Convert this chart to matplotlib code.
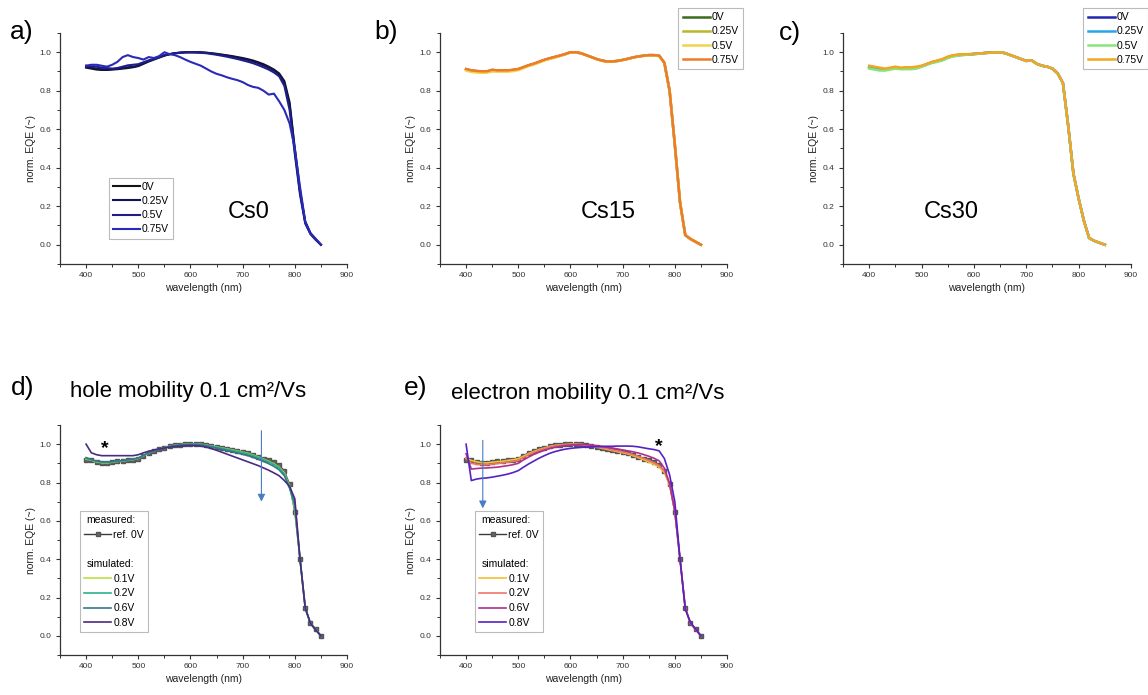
import matplotlib
matplotlib.use("Agg")
import matplotlib.pyplot as plt
from matplotlib.lines import Line2D
from matplotlib.ticker import MultipleLocator

plt.rcParams['font.family'] = ['Liberation Sans', 'DejaVu Sans']

# wavelength grid (nm)
wl = [400, 410, 420, 430, 440, 450, 460, 470, 480, 490,
      500, 510, 520, 530, 540, 550, 560, 570, 580, 590,
      600, 610, 620, 630, 640, 650, 660, 670, 680, 690,
      700, 710, 720, 730, 740, 750, 760, 770, 780, 790,
      800, 810, 820, 830, 840, 850]

bias_a = ['0V', '0.25V', '0.5V', '0.75V']
bias_sim = ['0.1V', '0.2V', '0.6V', '0.8V']

# a) Cs0
a_0V = [0.920, 0.915, 0.910, 0.908, 0.908, 0.910, 0.912, 0.915, 0.918, 0.922,
        0.928, 0.940, 0.952, 0.962, 0.972, 0.982, 0.990, 0.995, 0.998, 1.000,
        1.000, 1.000, 1.000, 0.998, 0.995, 0.992, 0.988, 0.984, 0.980, 0.975,
        0.970, 0.964, 0.957, 0.948, 0.938, 0.925, 0.910, 0.890, 0.850, 0.740,
        0.500, 0.280, 0.120, 0.060, 0.030, 0.000]
a_025V = [0.925, 0.920, 0.915, 0.912, 0.910, 0.912, 0.915, 0.918, 0.922, 0.925,
          0.930, 0.942, 0.955, 0.965, 0.975, 0.984, 0.990, 0.995, 0.998, 1.000,
          1.000, 1.000, 0.999, 0.997, 0.994, 0.990, 0.986, 0.982, 0.977, 0.972,
          0.966, 0.960, 0.952, 0.943, 0.932, 0.920, 0.905, 0.885, 0.840, 0.725,
          0.490, 0.270, 0.115, 0.058, 0.028, 0.000]
a_05V = [0.930, 0.928, 0.925, 0.920, 0.918, 0.915, 0.918, 0.925, 0.932, 0.935,
         0.938, 0.948, 0.958, 0.965, 0.975, 0.985, 0.990, 0.994, 0.997, 0.999,
         1.000, 0.999, 0.997, 0.995, 0.991, 0.987, 0.982, 0.977, 0.971, 0.965,
         0.958, 0.951, 0.943, 0.933, 0.922, 0.910, 0.895, 0.875, 0.825, 0.700,
         0.470, 0.260, 0.110, 0.055, 0.025, 0.000]
a_075V = [0.930, 0.935, 0.935, 0.930, 0.925, 0.935, 0.950, 0.975, 0.985, 0.975,
          0.970, 0.962, 0.975, 0.970, 0.980, 1.000, 0.990, 0.985, 0.975, 0.962,
          0.950, 0.940, 0.930, 0.915, 0.900, 0.888, 0.880, 0.870, 0.862, 0.855,
          0.845, 0.830, 0.820, 0.815, 0.800, 0.780, 0.785, 0.745, 0.700, 0.630,
          0.500, 0.300, 0.120, 0.060, 0.030, 0.000]

# b) Cs15
b_0V = [0.912, 0.905, 0.902, 0.900, 0.900, 0.908, 0.905, 0.905, 0.905, 0.908,
        0.912, 0.922, 0.932, 0.940, 0.950, 0.960, 0.968, 0.975, 0.982, 0.990,
        1.000, 1.000, 0.995, 0.985, 0.975, 0.965, 0.957, 0.952, 0.952, 0.955,
        0.960, 0.966, 0.973, 0.978, 0.982, 0.985, 0.985, 0.982, 0.945, 0.800,
        0.520, 0.220, 0.050, 0.030, 0.015, 0.000]
b_025V = [0.910, 0.904, 0.900, 0.898, 0.899, 0.906, 0.904, 0.904, 0.904, 0.907,
          0.911, 0.921, 0.931, 0.939, 0.949, 0.959, 0.967, 0.974, 0.981, 0.990,
          1.000, 1.000, 0.995, 0.985, 0.975, 0.965, 0.957, 0.952, 0.952, 0.955,
          0.960, 0.966, 0.973, 0.978, 0.982, 0.985, 0.985, 0.982, 0.945, 0.800,
          0.520, 0.220, 0.050, 0.030, 0.015, 0.000]
b_05V = [0.905, 0.898, 0.895, 0.893, 0.894, 0.900, 0.899, 0.899, 0.899, 0.902,
         0.907, 0.917, 0.928, 0.936, 0.946, 0.957, 0.965, 0.972, 0.980, 0.989,
         0.999, 0.999, 0.994, 0.984, 0.974, 0.964, 0.956, 0.951, 0.951, 0.954,
         0.959, 0.965, 0.972, 0.977, 0.981, 0.984, 0.984, 0.981, 0.944, 0.800,
         0.520, 0.220, 0.050, 0.030, 0.015, 0.000]
b_075V = [0.913, 0.906, 0.903, 0.901, 0.901, 0.909, 0.906, 0.906, 0.906, 0.909,
          0.913, 0.923, 0.933, 0.941, 0.951, 0.961, 0.969, 0.976, 0.983, 0.991,
          1.000, 1.000, 0.995, 0.985, 0.975, 0.965, 0.957, 0.952, 0.952, 0.955,
          0.960, 0.966, 0.973, 0.978, 0.982, 0.985, 0.985, 0.982, 0.945, 0.800,
          0.520, 0.220, 0.050, 0.030, 0.015, 0.000]

# c) Cs30
c_0V = [0.925, 0.920, 0.915, 0.910, 0.915, 0.920, 0.916, 0.918, 0.918, 0.921,
        0.928, 0.938, 0.948, 0.955, 0.962, 0.974, 0.982, 0.986, 0.988, 0.989,
        0.991, 0.993, 0.996, 0.998, 1.000, 1.000, 0.995, 0.985, 0.975, 0.965,
        0.955, 0.958, 0.940, 0.930, 0.925, 0.915, 0.890, 0.840, 0.620, 0.370,
        0.240, 0.125, 0.035, 0.020, 0.010, 0.000]
c_025V = [0.922, 0.917, 0.912, 0.908, 0.913, 0.918, 0.914, 0.915, 0.915, 0.918,
          0.926, 0.936, 0.946, 0.953, 0.960, 0.972, 0.980, 0.984, 0.987, 0.989,
          0.991, 0.993, 0.996, 0.998, 1.000, 1.000, 0.995, 0.985, 0.975, 0.965,
          0.955, 0.958, 0.940, 0.930, 0.925, 0.915, 0.890, 0.840, 0.620, 0.370,
          0.240, 0.125, 0.035, 0.020, 0.010, 0.000]
c_05V = [0.915, 0.910, 0.905, 0.905, 0.910, 0.915, 0.912, 0.912, 0.912, 0.915,
         0.925, 0.935, 0.945, 0.950, 0.958, 0.970, 0.978, 0.982, 0.985, 0.988,
         0.990, 0.992, 0.995, 0.997, 0.999, 1.000, 0.995, 0.985, 0.975, 0.965,
         0.955, 0.957, 0.940, 0.930, 0.925, 0.915, 0.890, 0.840, 0.620, 0.370,
         0.240, 0.125, 0.035, 0.020, 0.010, 0.000]
c_075V = [0.930, 0.925, 0.920, 0.915, 0.920, 0.925, 0.920, 0.922, 0.922, 0.925,
          0.930, 0.940, 0.950, 0.957, 0.965, 0.977, 0.985, 0.988, 0.990, 0.990,
          0.992, 0.994, 0.996, 0.998, 1.000, 1.000, 0.995, 0.985, 0.975, 0.965,
          0.955, 0.958, 0.940, 0.930, 0.925, 0.915, 0.890, 0.840, 0.620, 0.370,
          0.240, 0.125, 0.035, 0.020, 0.010, 0.000]

# measured reference at 0V (d and e)
ref_0V = [0.920, 0.915, 0.905, 0.900, 0.900, 0.905, 0.910, 0.910, 0.915, 0.920,
          0.925, 0.940, 0.955, 0.965, 0.975, 0.980, 0.990, 0.995, 0.998, 1.000,
          1.000, 1.000, 1.000, 0.995, 0.990, 0.985, 0.980, 0.975, 0.970, 0.965,
          0.960, 0.955, 0.945, 0.935, 0.925, 0.915, 0.905, 0.890, 0.860, 0.790,
          0.645, 0.400, 0.145, 0.065, 0.035, 0.000]

# d) simulated, hole mobility 0.1 cm2/Vs
d_01V = [0.922, 0.917, 0.908, 0.903, 0.902, 0.906, 0.910, 0.912, 0.916, 0.920,
         0.926, 0.940, 0.954, 0.965, 0.974, 0.981, 0.989, 0.994, 0.997, 0.999,
         1.000, 1.000, 0.999, 0.995, 0.990, 0.985, 0.980, 0.975, 0.970, 0.964,
         0.958, 0.952, 0.943, 0.933, 0.922, 0.910, 0.897, 0.880, 0.850, 0.780,
         0.660, 0.400, 0.145, 0.065, 0.033, 0.000]
d_02V = [0.925, 0.918, 0.910, 0.905, 0.904, 0.907, 0.911, 0.913, 0.917, 0.921,
         0.927, 0.941, 0.955, 0.965, 0.974, 0.981, 0.989, 0.994, 0.997, 0.999,
         1.000, 1.000, 0.999, 0.994, 0.989, 0.984, 0.979, 0.973, 0.968, 0.962,
         0.956, 0.950, 0.941, 0.931, 0.920, 0.908, 0.894, 0.877, 0.845, 0.775,
         0.670, 0.400, 0.145, 0.065, 0.033, 0.000]
d_06V = [0.930, 0.920, 0.912, 0.908, 0.907, 0.909, 0.912, 0.914, 0.918, 0.922,
         0.928, 0.941, 0.955, 0.964, 0.973, 0.980, 0.988, 0.993, 0.996, 0.998,
         0.999, 0.999, 0.997, 0.992, 0.986, 0.980, 0.974, 0.967, 0.961, 0.954,
         0.947, 0.940, 0.931, 0.921, 0.910, 0.898, 0.884, 0.866, 0.835, 0.770,
         0.690, 0.400, 0.145, 0.065, 0.033, 0.000]
d_08V = [1.000, 0.955, 0.945, 0.940, 0.940, 0.940, 0.940, 0.940, 0.940, 0.940,
         0.945, 0.955, 0.963, 0.970, 0.975, 0.980, 0.985, 0.988, 0.990, 0.992,
         0.993, 0.992, 0.990, 0.985, 0.977, 0.968, 0.958, 0.948, 0.938, 0.928,
         0.918, 0.908, 0.898, 0.888, 0.876, 0.864, 0.850, 0.835, 0.810, 0.780,
         0.715, 0.400, 0.145, 0.065, 0.030, 0.000]

# e) simulated, electron mobility 0.1 cm2/Vs
e_01V = [0.925, 0.915, 0.908, 0.903, 0.902, 0.906, 0.909, 0.911, 0.915, 0.919,
         0.924, 0.937, 0.951, 0.962, 0.972, 0.980, 0.988, 0.993, 0.996, 0.998,
         1.000, 1.000, 0.999, 0.995, 0.990, 0.985, 0.979, 0.973, 0.967, 0.961,
         0.955, 0.949, 0.940, 0.930, 0.919, 0.907, 0.895, 0.880, 0.852, 0.785,
         0.650, 0.400, 0.145, 0.065, 0.033, 0.000]
e_02V = [0.930, 0.900, 0.895, 0.893, 0.893, 0.896, 0.899, 0.902, 0.906, 0.910,
         0.915, 0.930, 0.945, 0.957, 0.968, 0.977, 0.985, 0.991, 0.995, 0.998,
         0.999, 1.000, 0.999, 0.996, 0.992, 0.987, 0.982, 0.976, 0.970, 0.965,
         0.959, 0.953, 0.945, 0.936, 0.926, 0.915, 0.903, 0.888, 0.860, 0.790,
         0.650, 0.400, 0.145, 0.065, 0.033, 0.000]
e_06V = [0.950, 0.870, 0.873, 0.875, 0.876, 0.878, 0.880, 0.884, 0.888, 0.893,
         0.900, 0.918, 0.933, 0.947, 0.958, 0.968, 0.977, 0.984, 0.989, 0.993,
         0.995, 0.997, 0.998, 0.997, 0.995, 0.992, 0.988, 0.984, 0.980, 0.975,
         0.970, 0.965, 0.960, 0.954, 0.946, 0.937, 0.927, 0.913, 0.875, 0.795,
         0.650, 0.400, 0.145, 0.065, 0.033, 0.000]
e_08V = [1.000, 0.810, 0.818, 0.822, 0.824, 0.828, 0.833, 0.838, 0.844, 0.852,
         0.862, 0.880, 0.897, 0.912, 0.927, 0.940, 0.952, 0.961, 0.968, 0.974,
         0.978, 0.981, 0.983, 0.985, 0.986, 0.987, 0.988, 0.989, 0.989, 0.990,
         0.990, 0.990, 0.989, 0.986, 0.981, 0.976, 0.972, 0.965, 0.925, 0.840,
         0.700, 0.400, 0.140, 0.070, 0.035, 0.000]

col_a = ['#141414', '#12125a', '#1e1e88', '#2a2ab8']
col_b = ['#3d6b1e', '#b8b82a', '#f2d44a', '#ee7a2a']
col_c = ['#2424b0', '#26a6e6', '#86e67a', '#f2a624']
col_d = ['#bde040', '#2bb38a', '#35788c', '#4a2a82']
col_e = ['#f5c02e', '#f07468', '#b0308e', '#5522c4']
arrow_col = '#4a7ac8'

W, H = 1148, 695
fig = plt.figure(figsize=(W / 100, H / 100), dpi=100)


def make_ax(x0, x1, top, bottom):
    ax = fig.add_axes([x0 / W, 1 - bottom / H, (x1 - x0) / W, (bottom - top) / H])
    ax.set_xlim(350, 900)
    ax.set_ylim(-0.1, 1.1)
    for s in ['top', 'right']:
        ax.spines[s].set_visible(False)
    for s in ['left', 'bottom']:
        ax.spines[s].set_color('#333333')
        ax.spines[s].set_linewidth(0.9)
    ax.set_xticks([400, 500, 600, 700, 800, 900])
    ax.set_yticks([0.0, 0.2, 0.4, 0.6, 0.8, 1.0])
    ax.xaxis.set_minor_locator(MultipleLocator(50))
    ax.yaxis.set_minor_locator(MultipleLocator(0.1))
    ax.tick_params(which='major', direction='out', length=3, width=0.8,
                   labelsize=6, colors='#333333', pad=3)
    ax.tick_params(which='minor', direction='out', length=2, width=0.7, colors='#333333')
    ax.set_xlabel('wavelength (nm)', fontsize=7.5, labelpad=3, color='#222222')
    ax.set_ylabel('norm. EQE (~)', fontsize=7.5, labelpad=3, color='#222222')
    return ax


def small_legend(ax, **kw):
    leg = ax.legend(fontsize=7.5, handlelength=2.6, handletextpad=0.2,
                    labelspacing=0.4, borderpad=0.4, borderaxespad=0,
                    fancybox=False, framealpha=1, edgecolor='#bbbbbb', **kw)
    leg.get_frame().set_linewidth(0.8)
    return leg


# ---- a) ----
ax = make_ax(60, 347, 33, 264)
for y, lab, c in zip([a_0V, a_025V, a_05V, a_075V], bias_a, col_a):
    ax.plot(wl, y, color=c, lw=1.5, label=lab)
ax.text(711, 0.17, 'Cs0', fontsize=17, ha='center', va='center')
small_legend(ax, loc='lower left', bbox_to_anchor=(0.17, 0.11))

# ---- b) ----
ax = make_ax(440, 727, 33, 264)
for y, lab, c in zip([b_0V, b_025V, b_05V, b_075V], bias_a, col_b):
    ax.plot(wl, y, color=c, lw=1.8, label=lab)
ax.text(673, 0.17, 'Cs15', fontsize=17, ha='center', va='center')
small_legend(ax, loc='upper right', bbox_to_anchor=(1.056, 1.108))

# ---- c) ----
ax = make_ax(843, 1131, 33, 264)
for y, lab, c in zip([c_0V, c_025V, c_05V, c_075V], bias_a, col_c):
    ax.plot(wl, y, color=c, lw=1.8, label=lab)
ax.text(557, 0.17, 'Cs30', fontsize=17, ha='center', va='center')
small_legend(ax, loc='upper right', bbox_to_anchor=(1.059, 1.108))


def sim_panel(ax, sims, cols, arrow_x, arrow_top, arrow_bot, star_x, star_y, leg_x):
    ref_line, = ax.plot(wl, ref_0V, color='#3a3a3a', lw=1.0, marker='s', ms=2.8,
                        mfc='#666666', mec='#555555', label='ref. 0V')
    handles = [Line2D([], [], alpha=0), ref_line, Line2D([], [], alpha=0),
               Line2D([], [], alpha=0)]
    labels = ['measured:', 'ref. 0V', ' ', 'simulated:']
    for y, lab, c in zip(sims, bias_sim, cols):
        h, = ax.plot(wl, y, color=c, lw=1.2)
        handles.append(h)
        labels.append(lab)
    ax.annotate('', xy=(arrow_x, arrow_bot), xytext=(arrow_x, arrow_top),
                arrowprops=dict(arrowstyle='-|>', color=arrow_col, lw=0.8,
                                mutation_scale=11, shrinkA=0, shrinkB=0))
    ax.text(star_x, star_y, '*', fontsize=14, fontweight='bold', ha='center', va='center')
    leg = ax.legend(handles, labels, fontsize=7.5, handlelength=2.6, handletextpad=0.2,
                    labelspacing=0.45, borderpad=0.4, borderaxespad=0, numpoints=1,
                    fancybox=False, framealpha=1, edgecolor='#bbbbbb',
                    loc='lower left', bbox_to_anchor=(leg_x, 0.1))
    leg.get_frame().set_linewidth(0.8)
    # header rows without a handle
    for col in leg._legend_handle_box.get_children():
        for row in col.get_children():
            hbox, tbox = row.get_children()
            if tbox.get_text() in ('measured:', 'simulated:', ' '):
                hbox.set_width(0)


# ---- d) ----
ax = make_ax(60, 347, 425, 655)
sim_panel(ax, [d_01V, d_02V, d_06V, d_08V], col_d, 736, 1.07, 0.70, 436, 0.975, 0.07)

# ---- e) ----
ax = make_ax(440, 727, 425, 655)
sim_panel(ax, [e_01V, e_02V, e_06V, e_08V], col_e, 432, 1.02, 0.665, 769, 0.99, 0.122)

# panel labels and titles
for txt, x, y in [('a)', 22, 32), ('b)', 386, 32), ('c)', 790, 33), ('d)', 23, 388), ('e)', 416, 388)]:
    fig.text(x / W, 1 - y / H, txt, fontsize=19, ha='center', va='center')
fig.text(188 / W, 1 - 392 / H, 'hole mobility 0.1 cm²/Vs', fontsize=16, ha='center', va='center')
fig.text(588 / W, 1 - 393 / H, 'electron mobility 0.1 cm²/Vs', fontsize=16, ha='center', va='center')

plt.savefig('out.png', dpi=100)
